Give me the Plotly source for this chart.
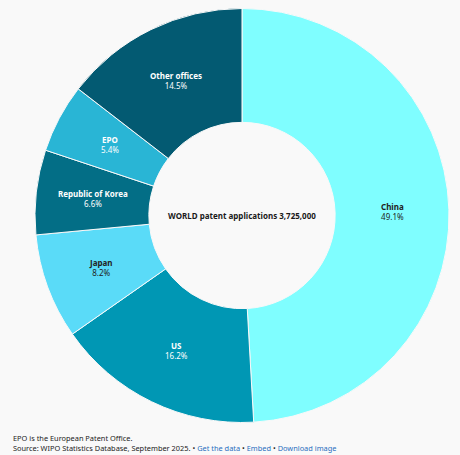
import math
import plotly.graph_objects as go

labels = ["China", "US", "Japan", "Republic of Korea", "EPO", "Other offices"]
values = [1829000, 603000, 306000, 246000, 200000, 541000]
colors = ["#7ffeff", "#0097b4", "#5adbf8", "#036e86", "#29b5d5", "#035a72"]
text_colors = ["#222222", "#ffffff", "#222222", "#ffffff", "#ffffff", "#ffffff"]
total_label = "WORLD patent applications 3,725,000"
note = "EPO is the European Patent Office."
source = "Source: WIPO Statistics Database, September 2025."
links = ["Get the data", "Embed", "Download image"]

W, H = 460, 455
ML, MR, MT, MB = 35, 11, 8, 32
HOLE = 0.45
pw, ph = W - ML - MR, H - MT - MB
R = min(pw, ph) / 2
r_mid = R * (1 + HOLE) / 2

fig = go.Figure(go.Pie(
    labels=labels,
    values=values,
    hole=HOLE,
    sort=False,
    direction="clockwise",
    rotation=0,
    marker=dict(colors=colors, line=dict(color="#f9f9f9", width=1)),
    textinfo="none",
    hoverinfo="label+percent",
    showlegend=False,
))

total = sum(values)
annotations = []
cum = 0
for lab, v, tc in zip(labels, values, text_colors):
    mid = (cum + v / 2) / total * 2 * math.pi
    cum += v
    x = 0.5 + r_mid * math.sin(mid) / pw
    y = 0.5 + r_mid * math.cos(mid) / ph
    annotations.append(dict(
        text=f"<b>{lab}</b><br>{v / total * 100:.1f}%", x=x, y=y,
        xref="paper", yref="paper", xanchor="center", yanchor="middle",
        showarrow=False, font=dict(size=8, color=tc), align="center"))

annotations.append(dict(text=f"<b>{total_label}</b>", x=0.5, y=0.5, xref="paper", yref="paper",
                        xanchor="center", yanchor="middle",
                        showarrow=False, font=dict(size=8, color="#1a1a1a")))

link_html = " • ".join(f"<span style='color:#2a6fc0'>{l}</span>" for l in links)
annotations.append(dict(text=note, x=0, y=0, xref="paper", yref="paper",
                        xanchor="left", yanchor="middle", xshift=-24, yshift=-15,
                        showarrow=False, font=dict(size=7.4, color="#222222")))
annotations.append(dict(text=f"{source} • {link_html}", x=0, y=0, xref="paper", yref="paper",
                        xanchor="left", yanchor="middle", xshift=-24, yshift=-25,
                        showarrow=False, font=dict(size=7.4, color="#222222")))

fig.update_layout(
    width=W, height=H,
    margin=dict(l=ML, r=MR, t=MT, b=MB),
    paper_bgcolor="#f9f9f9",
    plot_bgcolor="#f9f9f9",
    font=dict(family="Noto Sans", size=8, color="#222222"),
    annotations=annotations,
)

fig.write_html("out.html")
